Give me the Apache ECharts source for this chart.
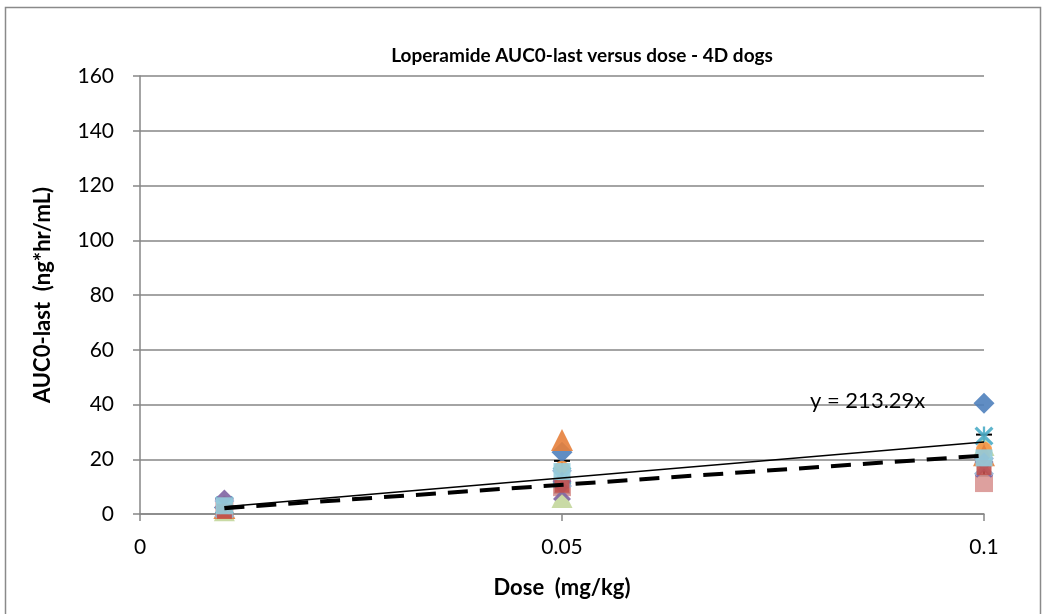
<!DOCTYPE html>
<html>
<head>
<meta charset="utf-8">
<script src="https://cdn.jsdelivr.net/npm/echarts@6/dist/echarts.min.js"></script>
<style>
  html, body { margin: 0; padding: 0; background: #fff; }
  #chart { width: 1047px; height: 614px; }
</style>
</head>
<body>
<div id="chart"></div>
<script>
// Loperamide exposure (AUC0-last) per dog at each dose level
const doses = [0.01, 0.05, 0.1];

const dog1 = [2.4, 22.6, 40.5];
const dog2 = [1.6, 9.8, 11.3];
const dog3 = [1.2, 6.0, 25.0];
const dog4 = [2.8, 8.0, 16.5];
const dog5 = [3.2, 14.0, 28.5];
const dog6 = [3.6, 16.5, 23.5];
const dog7 = [2.2, 27.0, 21.5];
const dog8 = [5.5, 12.0, 19.0];
const dog9 = [2.0, 13.0, 17.5];
const dog10 = [1.0, 10.5, 17.0];
const dog11 = [3.0, 15.5, 20.5];

// group mean and standard deviation per dose
const groupMean = [2.6, 13.5, 21.5];
const groupSD = [1.3, 5.9, 7.5];

// linear fits through the origin (end points at the lowest and highest dose)
const fitAll = [[0.01, 2.63], [0.1, 26.3]];
const fitMeanSlope = 213.29;
const fitMean = [[0.01, 2.1329], [0.1, 21.329]];

const yTicks = [0, 20, 40, 60, 80, 100, 120, 140, 160];
const xTicks = [0, 0.05, 0.1];

const FONT = 'Lato, "Open Sans", sans-serif';

const SYM_X = 'path://M0,1.2L1.2,0L5,3.8L8.8,0L10,1.2L6.2,5L10,8.8L8.8,10L5,6.2L1.2,10L0,8.8L3.8,5Z';
const SYM_STAR = 'path://M0,1.2L1.2,0L5,3.8L8.8,0L10,1.2L6.2,5L10,8.8L8.8,10L5,6.2L1.2,10L0,8.8L3.8,5Z' +
                 'M4.4,0L5.6,0L5.6,10L4.4,10Z';

const dogs = [
  { v: dog1, color: '#4F81BD', symbol: 'diamond', size: 21 },
  { v: dog2, color: '#D99694', symbol: 'rect', size: 18 },
  { v: dog3, color: '#C3D69B', symbol: 'triangle', size: 21 },
  { v: dog4, color: '#8064A2', symbol: SYM_X, size: 18 },
  { v: dog5, color: '#4BACC6', symbol: SYM_STAR, size: 19 },
  { v: dog6, color: '#F79646', symbol: 'circle', size: 16 },
  { v: dog7, color: '#E6803B', symbol: 'triangle', size: 22 },
  { v: dog8, color: '#8064A2', symbol: 'diamond', size: 19 },
  { v: dog9, color: '#95B3D7', symbol: SYM_X, size: 20 },
  { v: dog10, color: '#C0504D', symbol: 'rect', size: 15 },
  { v: dog11, color: '#93CDDD', symbol: 'rect', size: 17 }
];

const scatterSeries = dogs.map((d, i) => ({
  type: 'scatter',
  name: 'Dog ' + (i + 1),
  data: doses.map((x, j) => [x, d.v[j]]),
  symbol: d.symbol,
  symbolSize: d.size,
  itemStyle: { color: d.color, opacity: 0.9 },
  z: 3
}));

const errorData = doses.map((x, j) => [x, groupMean[j] - groupSD[j], groupMean[j] + groupSD[j]]);

const chart = echarts.init(document.getElementById('chart'));
chart.setOption({
  animation: false,
  backgroundColor: '#fff',
  textStyle: { fontFamily: FONT },
  title: {
    text: 'Loperamide AUC0-last versus dose - 4D dogs',
    left: 577,
    textAlign: 'center',
    top: 41,
    textStyle: { fontFamily: FONT, fontSize: 19, fontWeight: 'bold', color: '#000' }
  },
  grid: { left: 140, right: 63, top: 76, bottom: 100 },
  xAxis: {
    type: 'value',
    min: xTicks[0],
    max: xTicks[xTicks.length - 1],
    interval: 0.05,
    name: 'Dose  (mg/kg)',
    nameLocation: 'middle',
    nameGap: 63,
    nameTextStyle: { fontFamily: FONT, fontSize: 22, fontWeight: 'bold', color: '#000' },
    axisLine: { show: true, onZero: false, lineStyle: { color: '#868686', width: 1.5 } },
    axisTick: { show: true, inside: false, length: 7, lineStyle: { color: '#868686', width: 1.5 } },
    axisLabel: { margin: 23, fontSize: 21, color: '#000', fontFamily: FONT,
      formatter: v => String(v) },
    splitLine: { show: false }
  },
  yAxis: {
    type: 'value',
    min: yTicks[0],
    max: yTicks[yTicks.length - 1],
    interval: 20,
    name: 'AUC0-last  (ng*hr/mL)',
    nameLocation: 'middle',
    nameGap: 86,
    nameTextStyle: { fontFamily: FONT, fontSize: 22, fontWeight: 'bold', color: '#000' },
    axisLine: { show: true, lineStyle: { color: '#868686', width: 1.5 } },
    axisTick: { show: true, inside: false, length: 7, lineStyle: { color: '#868686', width: 1.5 } },
    axisLabel: { margin: 26, fontSize: 21, color: '#000', fontFamily: FONT },
    splitLine: { show: true, lineStyle: { color: '#868686', width: 1.5 } }
  },
  graphic: [
    {
      type: 'rect',
      shape: { x: 5.5, y: 7.5, width: 1035, height: 610 },
      style: { fill: 'none', stroke: '#8a8a8a', lineWidth: 1.5 },
      silent: true
    },
    {
      type: 'text',
      left: 810,
      top: 390,
      style: { text: 'y = 213.29x', fontSize: 22, fontFamily: FONT, fill: '#000' },
      z: 10
    }
  ],
  series: [
    {
      type: 'custom',
      name: 'Mean ± SD',
      data: errorData,
      z: 2,
      renderItem: function (params, api) {
        const x = api.value(0);
        const lo = api.coord([x, api.value(1)]);
        const hi = api.coord([x, api.value(2)]);
        const half = 8;
        const st = { stroke: '#000', lineWidth: 2 };
        return {
          type: 'group',
          children: [
            { type: 'line', shape: { x1: lo[0], y1: lo[1], x2: hi[0], y2: hi[1] }, style: st },
            { type: 'line', shape: { x1: hi[0] - half, y1: hi[1], x2: hi[0] + half, y2: hi[1] }, style: st },
            { type: 'line', shape: { x1: lo[0] - half, y1: lo[1], x2: lo[0] + half, y2: lo[1] }, style: st }
          ]
        };
      }
    },
    ...scatterSeries,
    {
      type: 'line',
      name: 'Linear (all)',
      data: fitAll,
      symbol: 'none',
      lineStyle: { color: '#000', width: 1.5 },
      z: 5
    },
    {
      type: 'line',
      name: 'Linear (mean) ' + fitMeanSlope,
      data: fitMean,
      symbol: 'none',
      lineStyle: { color: '#000', width: 4, type: [20, 12] },
      z: 5
    }
  ]
});
</script>
</body>
</html>
